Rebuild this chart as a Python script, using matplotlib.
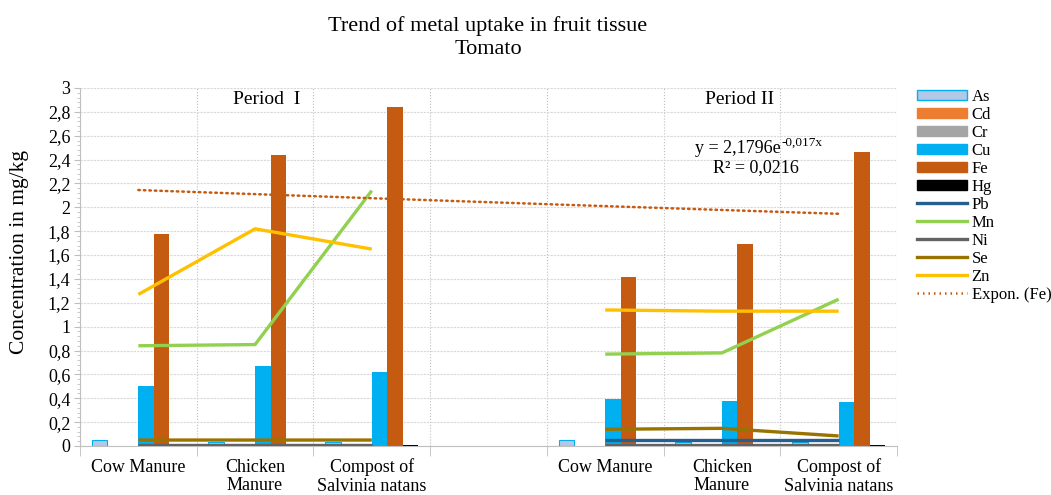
import matplotlib
matplotlib.use("Agg")
import matplotlib.pyplot as plt
import numpy as np
from matplotlib.patches import Patch
from matplotlib.lines import Line2D
from matplotlib.ticker import MultipleLocator, FuncFormatter, FixedLocator

plt.rcParams["font.family"] = ["Liberation Serif", "DejaVu Serif"]

# categories: period I (3), spacer, period II (3)
categories = ["Cow Manure", "Chicken\nManure", "Compost of\nSalvinia natans", "",
              "Cow Manure", "Chicken\nManure", "Compost of\nSalvinia natans"]

nan = np.nan
# bar series (mg/kg)
bar_series = {
    "As": [0.05, 0.03, 0.03, nan, 0.05, 0.03, 0.03],
    "Cd": [0.0, 0.0, 0.0, nan, 0.0, 0.0, 0.0],
    "Cr": [0.0, 0.0, 0.0, nan, 0.0, 0.0, 0.0],
    "Cu": [0.505, 0.67, 0.618, nan, 0.39, 0.38, 0.37],
    "Fe": [1.78, 2.44, 2.84, nan, 1.415, 1.69, 2.465],
    "Hg": [0.0, 0.0, 0.005, nan, 0.0, 0.0, 0.005],
}
# line series (mg/kg)
line_series = {
    "Pb": [0.0, 0.0, 0.0, nan, 0.05, 0.05, 0.05],
    "Mn": [0.84, 0.85, 2.14, nan, 0.77, 0.78, 1.23],
    "Ni": [0.005, 0.005, 0.005, nan, 0.005, 0.005, 0.005],
    "Se": [0.05, 0.05, 0.05, nan, 0.14, 0.148, 0.084],
    "Zn": [1.27, 1.82, 1.65, nan, 1.14, 1.13, 1.13],
}

bar_colors = {"As": "#B4C7E7", "Cd": "#ED7D31", "Cr": "#A5A5A5",
              "Cu": "#00B0F0", "Fe": "#C55A11", "Hg": "#000000"}
line_colors = {"Pb": "#255E91", "Mn": "#92D050", "Ni": "#636363",
               "Se": "#997300", "Zn": "#FFC000"}

fig = plt.figure(figsize=(10.51, 4.95), dpi=100)
ax = fig.add_axes([80 / 1051, 1 - 446 / 495, 817 / 1051, 358 / 495])

x = np.arange(1, len(categories) + 1)
w = 0.8 / len(bar_series)
for i, (name, vals) in enumerate(bar_series.items()):
    edge = "#00B0F0" if name == "As" else "none"
    ax.bar(x + (i - 2.5) * w, vals, width=w, color=bar_colors[name],
           edgecolor=edge, linewidth=0.8, zorder=2)

for name, vals in line_series.items():
    ax.plot(x, vals, color=line_colors[name], lw=2.4, zorder=3,
            solid_capstyle="butt")

# exponential trend of Fe (Excel style)
fe = np.array(bar_series["Fe"])
ok = ~np.isnan(fe)
b, a = np.polyfit(x[ok], np.log(fe[ok]), 1)
xt = np.linspace(1, 7, 200)
ax.plot(xt, np.exp(a) * np.exp(b * xt), color="#C55A11", lw=1.8,
        linestyle=(0, (0.6, 1.6)), dash_capstyle="round", zorder=3)

ax.set_xlim(0.5, 7.5)
ax.set_ylim(0, 3)
ax.yaxis.set_major_locator(MultipleLocator(0.2))
ax.yaxis.set_minor_locator(MultipleLocator(0.04))
ax.yaxis.set_major_formatter(FuncFormatter(
    lambda v, p: ("%.1f" % v).rstrip("0").rstrip(".").replace(".", ",")))
ax.set_xticks(x)
ax.set_xticklabels(categories, fontsize=13, linespacing=1.15)
ax.xaxis.set_minor_locator(FixedLocator(np.arange(0.5, 7.6, 1.0)))
ax.tick_params(axis="x", which="major", length=0, pad=9)
ax.tick_params(axis="x", which="minor", length=7, color="#BFBFBF")
ax.tick_params(axis="y", which="major", length=4, color="#BFBFBF", labelsize=13, pad=3)
ax.tick_params(axis="y", which="minor", length=2, color="#BFBFBF")

ax.grid(True, axis="y", which="major", color="#D9D9D9", lw=0.8,
        linestyle=(0, (2, 1)), zorder=0)
ax.grid(True, axis="x", which="minor", color="#BFBFBF", lw=0.8,
        linestyle=":", zorder=0)
for s in ["top", "right"]:
    ax.spines[s].set_visible(False)
for s in ["left", "bottom"]:
    ax.spines[s].set_color("#BFBFBF")

ax.set_ylabel("Concentration in mg/kg", fontsize=15.5)
ax.yaxis.set_label_coords(-0.0624, 0.542)

fig.text(488 / 1051, 1 - 26 / 495, "Trend of metal uptake in fruit tissue",
         ha="center", va="center", fontsize=16)
fig.text(488 / 1051, 1 - 50 / 495, "Tomato", ha="center", va="center", fontsize=16)

ax.text(2.1, 2.9, "Period  I", ha="center", va="center", fontsize=14)
ax.text(6.15, 2.9, "Period II", ha="center", va="center", fontsize=14)
# trend equation with superscript exponent
ax.text(6.507, 2.497, "y = 2,1796e", ha="right", va="center", fontsize=13)
ax.annotate("-0,017x", xy=(6.507, 2.497), xytext=(0.5, 4),
            textcoords="offset points", ha="left", va="center", fontsize=9.5)
ax.text(6.29, 2.33, "R² = 0,0216", ha="center", va="center", fontsize=13)

handles = []
for name in bar_series:
    edge = "#00B0F0" if name == "As" else bar_colors[name]
    handles.append(Patch(facecolor=bar_colors[name], edgecolor=edge, label=name))
for name in line_series:
    handles.append(Line2D([], [], color=line_colors[name], lw=2.4, label=name))
handles.append(Line2D([], [], color="#C55A11", lw=1.8,
                      linestyle=(0, (0.6, 1.6)), label="Expon. (Fe)"))
fig.legend(handles=handles, loc="upper left",
           bbox_to_anchor=(910 / 1051, 1 - 82 / 495), frameon=False,
           fontsize=12, handlelength=3.0, handleheight=0.55,
           labelspacing=0.12, handletextpad=0.3, borderaxespad=0)

fig.savefig("out.png", dpi=100)
